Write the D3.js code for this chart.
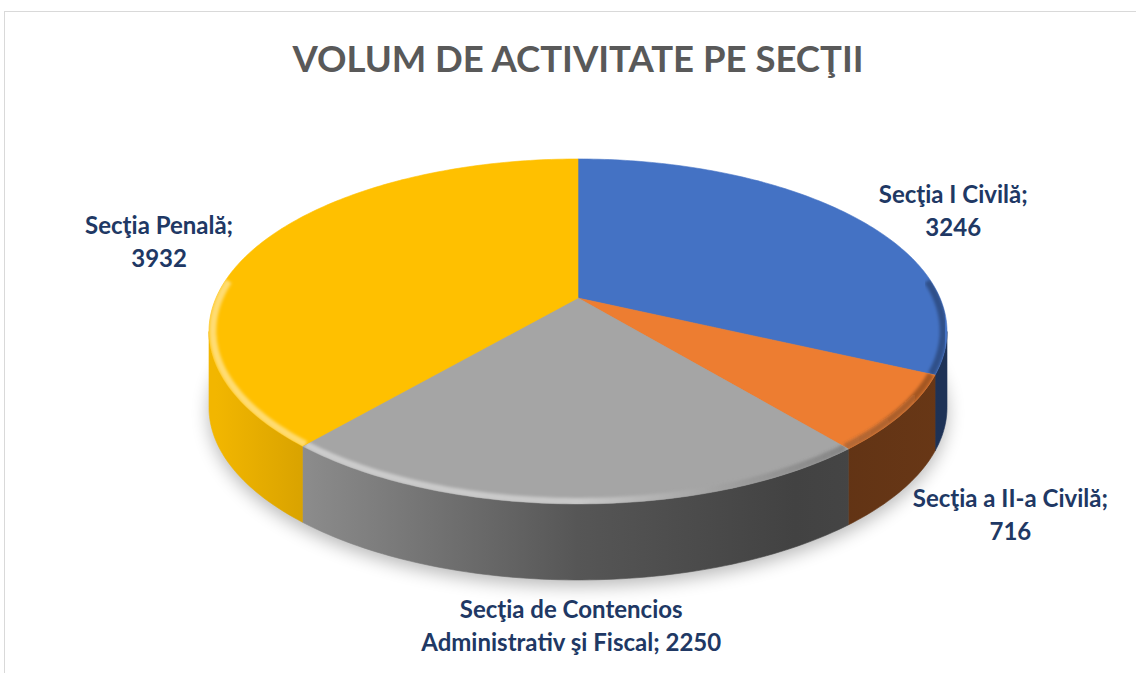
<!DOCTYPE html>
<html>
<head>
<meta charset="utf-8">
<script src="https://cdn.jsdelivr.net/npm/d3@7"></script>
<style>
  html, body { margin: 0; padding: 0; background: #fff; }
  svg { display: block; }
</style>
</head>
<body>
<svg id="chart" width="1136" height="673"></svg>
<script>
const title = "VOLUM DE ACTIVITATE PE SECŢII";
const categories = ["Secţia I Civilă", "Secţia a II-a Civilă", "Secţia de Contencios Administrativ şi Fiscal", "Secţia Penală"];
const values = [3246, 716, 2250, 3932];
const colors = ["#4472C4", "#ED7D31", "#A5A5A5", "#FFC000"];

const W = 1136, H = 673;
const cx = 578, cy = 298;       // projected pie centre
const R = 362, Q = 166;         // horizontal / depth radius
const P = 0.194;                // perspective strength
const D = 76;                   // pie thickness

const svg = d3.select("#chart");
const defs = svg.append("defs");

// chart border
svg.append("rect")
  .attr("x", 4.5).attr("y", 11.5)
  .attr("width", W + 10).attr("height", H + 10)
  .attr("fill", "none").attr("stroke", "#d9d9d9");

svg.append("text")
  .attr("x", cx).attr("y", 72)
  .attr("text-anchor", "middle")
  .attr("font-family", "Lato, 'Open Sans', sans-serif")
  .attr("font-weight", 700)
  .attr("font-size", 36.5)
  .attr("fill", "#595959")
  .text(title);

// project a point on the pie disc (angle clockwise from the back, radius factor k)
function proj(phi, k = 1) {
  const u = k * Math.sin(phi), v = -k * Math.cos(phi);
  const w = 1 - P * v;
  return [cx + R * u / w, cy + Q * v / w, w];
}
function projBottom(phi, k = 1) {
  const [x, y, w] = proj(phi, k);
  return [x, y + D, w];
}
function samples(a, b) {
  const n = Math.max(2, Math.ceil(Math.abs(b - a) / (Math.PI / 180)));
  return d3.range(n + 1).map(i => a + (b - a) * i / n);
}

// front-facing wall range: where dX/dphi changes sign
const phiR = Math.acos(-P);
const phiL = 2 * Math.PI - phiR;

const arcs = d3.pie().sort(null).value(d => d)(values);
const line = d3.line();

// filters
const blur = defs.append("filter").attr("id", "shadow")
  .attr("x", "-20%").attr("y", "-20%").attr("width", "140%").attr("height", "140%");
blur.append("feGaussianBlur").attr("stdDeviation", 9);
const soft = defs.append("filter").attr("id", "soft")
  .attr("x", "-10%").attr("y", "-10%").attr("width", "120%").attr("height", "120%");
soft.append("feGaussianBlur").attr("stdDeviation", 1.6);

// shadow beneath the pie
const bottomPts = samples(0, 2 * Math.PI).map(p => {
  const [x, y] = projBottom(p, 1.0);
  return [x, y + 6];
});
svg.append("path")
  .attr("d", line(bottomPts) + "Z")
  .attr("fill", "#000").attr("opacity", 0.28)
  .attr("filter", "url(#shadow)");

// side wall gradients (lit from the left)
const shade = [[0, 0.95], [0.12, 0.85], [0.5, 0.52], [0.8, 0.4], [1, 0.44]];
colors.forEach((c, i) => {
  const g = defs.append("linearGradient").attr("id", "side" + i)
    .attr("gradientUnits", "userSpaceOnUse")
    .attr("x1", cx - R).attr("x2", cx + R).attr("y1", 0).attr("y2", 0);
  const base = d3.rgb(c);
  shade.forEach(([o, f]) => {
    g.append("stop").attr("offset", o)
      .attr("stop-color", d3.rgb(base.r * f, base.g * f, base.b * f).formatHex());
  });
});
const rim = defs.append("linearGradient").attr("id", "rim")
  .attr("gradientUnits", "userSpaceOnUse")
  .attr("x1", cx - R).attr("x2", cx + R).attr("y1", 0).attr("y2", 0);
rim.append("stop").attr("offset", 0).attr("stop-color", "#fff").attr("stop-opacity", 0.45);
rim.append("stop").attr("offset", 0.5).attr("stop-color", "#fff").attr("stop-opacity", 0.4);
rim.append("stop").attr("offset", 1).attr("stop-color", "#000").attr("stop-opacity", 0.3);

// walls
const walls = svg.append("g");
arcs.forEach((a, i) => {
  const s = Math.max(a.startAngle, phiR), e = Math.min(a.endAngle, phiL);
  if (e <= s) return;
  const ph = samples(s, e);
  const top = ph.map(p => proj(p).slice(0, 2));
  const bot = ph.map(p => projBottom(p).slice(0, 2)).reverse();
  walls.append("path")
    .attr("d", line(top.concat(bot)) + "Z")
    .attr("fill", `url(#side${i})`)
    .attr("stroke", `url(#side${i})`).attr("stroke-width", 0.6);
});

// top faces
const tops = svg.append("g");
arcs.forEach((a, i) => {
  const pts = [[cx, cy]].concat(samples(a.startAngle, a.endAngle).map(p => proj(p).slice(0, 2)));
  const d = line(pts) + "Z";
  tops.append("path").attr("d", d).attr("fill", colors[i])
    .attr("stroke", colors[i]).attr("stroke-width", 0.6);
  defs.append("clipPath").attr("id", "clip" + i).append("path").attr("d", d);
  // bevel highlight along the front edge
  const s = Math.max(a.startAngle, phiR - 0.3), e = Math.min(a.endAngle, phiL + 0.3);
  if (e > s) {
    tops.append("g").attr("clip-path", `url(#clip${i})`)
      .append("path")
      .attr("d", line(samples(s, e).map(p => proj(p, 0.99).slice(0, 2))))
      .attr("fill", "none")
      .attr("stroke", "url(#rim)")
      .attr("stroke-width", 7)
      .attr("filter", "url(#soft)");
  }
});

// data labels
function labelLines(name, value) {
  const full = `${name}; ${value}`;
  if (full.length <= 30) return [`${name};`, String(value)];
  const lines = [];
  let cur = "";
  full.split(" ").forEach(wd => {
    const cand = cur ? cur + " " + wd : wd;
    if (cand.length <= 30) cur = cand;
    else { lines.push(cur); cur = wd; }
  });
  if (cur) lines.push(cur);
  return lines;
}

const labels = svg.append("g")
  .attr("font-family", "Lato, 'Open Sans', sans-serif")
  .attr("font-weight", 700)
  .attr("font-size", 24)
  .attr("fill", "#203864")
  .attr("text-anchor", "middle");
const lh = 33, gapX = 28, gapY = 8;
arcs.forEach((a, i) => {
  const mid = (a.startAngle + a.endAngle) / 2;
  let [x, y] = proj(mid, 1);
  if (-Math.cos(mid) > 0) y += D;
  let dx = x - cx, dy = y - cy;
  const len = Math.hypot(dx, dy) || 1;
  dx /= len; dy /= len;
  x += dx * gapX; y += dy * gapY;
  const lines = labelLines(categories[i], values[i]);
  const t = labels.append("text");
  lines.forEach((ln, j) => t.append("tspan").attr("x", 0).attr("y", j * lh).text(ln));
  const bb = t.node().getBBox();
  const bw = bb.width / 2, bh = (lines.length * lh) / 2;
  const bxc = x + dx * bw, byc = y + dy * bh;
  t.attr("transform", `translate(${bxc},${byc - bh + lh * 0.9})`);
});
</script>
</body>
</html>
